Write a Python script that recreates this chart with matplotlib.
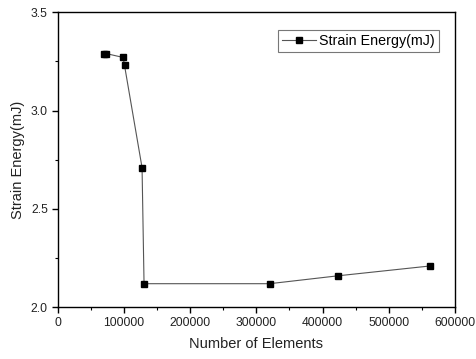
import matplotlib
matplotlib.use("Agg")
import matplotlib.pyplot as plt
from matplotlib.ticker import MultipleLocator

plt.rcParams["font.family"] = ["Liberation Sans", "DejaVu Sans"]

# datos
elements = [70500, 73000, 99000, 101000, 127500, 130500, 320000, 423000, 562000]
energy = [3.29, 3.29, 3.27, 3.23, 2.71, 2.12, 2.12, 2.16, 2.21]

x_ticks = [0, 100000, 200000, 300000, 400000, 500000, 600000]
y_ticks = [2.0, 2.5, 3.0, 3.5]

fig = plt.figure(figsize=(4.76, 3.59), dpi=100)
ax = fig.add_axes([0.121, 0.144, 0.835, 0.822])

ax.plot(elements, energy, color="#555555", linewidth=0.8,
        marker="s", markersize=4.6, markerfacecolor="black",
        markeredgecolor="black", label="Strain Energy(mJ)")

ax.set_xlim(0, 600000)
ax.set_ylim(2.0, 3.5)
ax.set_xticks(x_ticks)
ax.set_xticklabels([str(t) for t in x_ticks])
ax.set_yticks(y_ticks)
ax.set_yticklabels([f"{t:.1f}" for t in y_ticks])
ax.xaxis.set_minor_locator(MultipleLocator(50000))
ax.yaxis.set_minor_locator(MultipleLocator(0.25))

ax.tick_params(which="major", direction="out", length=4, width=1,
               labelsize=8.7, colors="black", labelcolor="#222222", pad=3)
ax.tick_params(which="minor", direction="out", length=2.5, width=0.8)
for s in ax.spines.values():
    s.set_linewidth(1.0)

ax.set_xlabel("Number of Elements", fontsize=10.5, labelpad=6, color="#222222")
ax.set_ylabel("Strain Energy(mJ)", fontsize=10.5, labelpad=4, color="#222222")

leg = ax.legend(loc="upper right", fontsize=10.3, fancybox=False,
                framealpha=1, edgecolor="#777777", borderpad=0.3,
                borderaxespad=0, handlelength=2.4, handletextpad=0.2,
                bbox_to_anchor=(0.9605, 0.94))
leg.get_frame().set_linewidth(0.8)

fig.savefig("out.png", dpi=100)
plt.close(fig)
